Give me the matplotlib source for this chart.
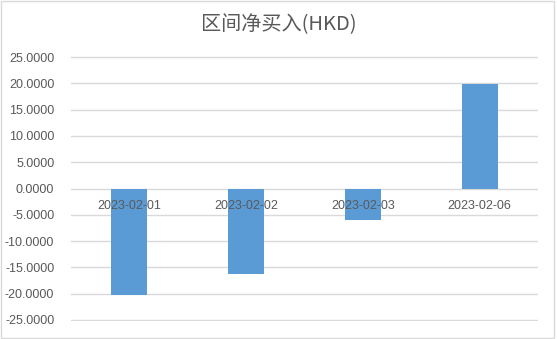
import matplotlib
matplotlib.use("Agg")
import matplotlib.pyplot as plt
from matplotlib.patches import Rectangle

categories = ["2023-02-01", "2023-02-02", "2023-02-03", "2023-02-06"]
values = [-20.3, -16.2, -6.0, 19.9]
yticks = [-25, -20, -15, -10, -5, 0, 5, 10, 15, 20, 25]
title = "区间净买入(HKD)"

plt.rcParams['font.family'] = ['Liberation Sans', 'Noto Sans CJK SC', 'DejaVu Sans']

W, H = 557, 339
fig = plt.figure(figsize=(W/100, H/100), dpi=100)
ax = fig.add_axes([71/W, 1-321/H, (538-71)/W, (321-56)/H])

x = list(range(len(categories)))
ax.bar(x, values, width=0.31, color="#5b9bd5", zorder=3)
ax.set_xlim(-0.5, len(categories)-0.5)
ax.set_ylim(-25.2, 25.2)
ax.set_yticks(yticks)
ax.set_yticklabels([f"{v:.4f}" for v in yticks], fontsize=9, color="#595959")
ax.tick_params(axis='y', length=0, pad=12)
ax.set_xticks([])
for s in ax.spines.values():
    s.set_visible(False)
ax.grid(axis='y', color="#d9d9d9", linewidth=1, zorder=0)
for i, c in enumerate(categories):
    ax.text(i, -2.2, c, ha='center', va='top', fontsize=9, color="#595959", zorder=4)

fig.text(0.5, 1-25/H, title, ha='center', va='center', fontsize=14.5, color="#595959",
         family=['Noto Sans CJK SC', 'DejaVu Sans'])
fig.patches.append(Rectangle((0.5/W, 1.5/H), (W-4)/W, (H-2)/H, transform=fig.transFigure,
                             fill=False, edgecolor="#d9d9d9", linewidth=1))
fig.savefig("out.png", dpi=100)
